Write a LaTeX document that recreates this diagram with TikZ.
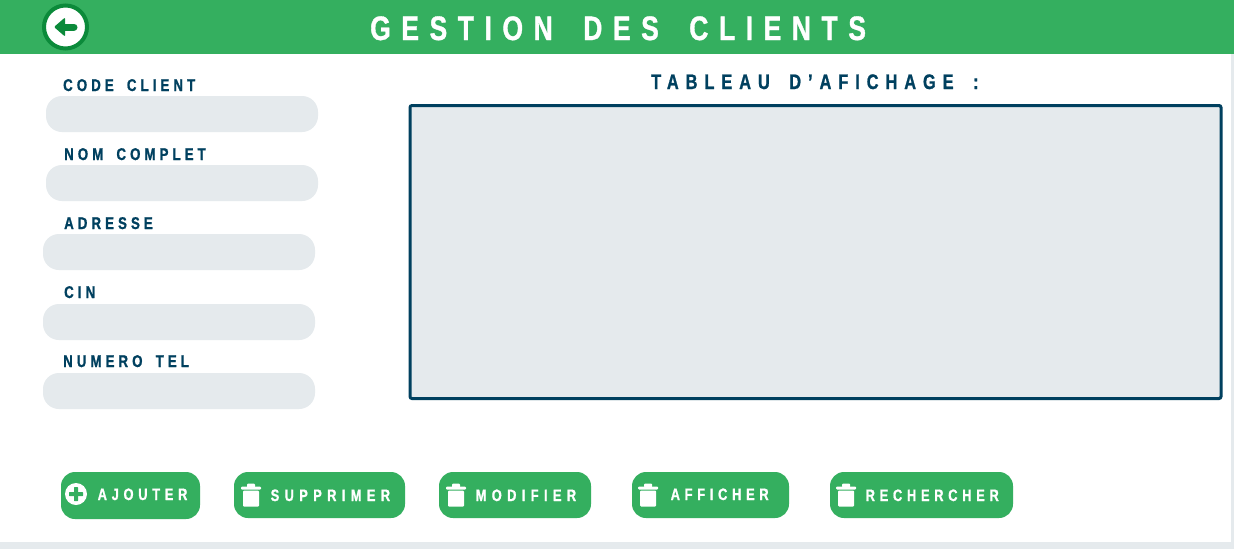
\documentclass[tikz,border=0pt]{standalone}
\usepackage{fontspec}
\newfontfamily\hfont[FakeStretch=0.78,LetterSpace=31,WordSpace=1.7,FakeBold=1]{Liberation Sans Bold}
\newfontfamily\lfont[FakeStretch=0.78,LetterSpace=24,WordSpace=1.7,FakeBold=1]{Liberation Sans Bold}
\newfontfamily\tfont[FakeStretch=0.78,LetterSpace=33,WordSpace=1.7,FakeBold=1]{Liberation Sans Bold}
\newfontfamily\bfontf[FakeStretch=0.78,LetterSpace=28.5,FakeBold=1]{Liberation Sans Bold}
\newfontfamily\bfontw[FakeStretch=0.78,LetterSpace=32.5,FakeBold=1]{Liberation Sans Bold}
\definecolor{grn}{HTML}{34AF5F}
\definecolor{dgrn}{HTML}{0B8A3A}
\definecolor{navy}{HTML}{00405F}
\definecolor{pale}{HTML}{E5EAED}
\tikzset{
  x=1pt,y=-1pt,
  pill/.style={fill=pale,rounded corners=16pt},
  btn/.style={fill=grn,rounded corners=14pt},
  lab/.style={inner sep=0pt,anchor=base west,text=navy,font=\lfont\fontsize{17}{17}\selectfont},
  btnlab/.style={inner sep=0pt,anchor=base west,text=white,font=\bfontf\fontsize{16.5}{17}\selectfont},
  btnlabw/.style={btnlab,font=\bfontw\fontsize{16.5}{17}\selectfont},
  trash/.pic={
    \fill[white,rounded corners=1pt] (-8,-3.5) rectangle (8,12.5);
    \fill[white,rounded corners=1pt] (-10,-7.5) rectangle (10,-4.5);
    \fill[white,rounded corners=1pt] (-4,-10.5) rectangle (4,-6.5);
  }
}
\begin{document}
\begin{tikzpicture}
\useasboundingbox (0,0) rectangle (1234,549);
\fill[white] (0,0) rectangle (1234,549);
\fill[pale] (0,542) rectangle (1234,549);
\fill[pale] (1231,0) rectangle (1234,549);
\fill[grn] (0,0) rectangle (1234,54);
% back button
\node[circle,draw=dgrn,line width=4pt,fill=white,minimum size=43pt,inner sep=0pt] (back) at (65.5,27) {};
\draw[dgrn,line width=7pt,line cap=round] (74,27) -- (61,27);
\fill[dgrn,rounded corners=1pt] (54,27) -- (65,17.5) -- (65,36.5) -- cycle;
% title
\node[inner sep=0pt,anchor=base west,text=white,font=\hfont\fontsize{34}{34}\selectfont] (title) at (370,40) {GESTION DES CLIENTS};
% fields
\fill[pill] (46,96) rectangle (318,132);
\fill[pill] (46,165) rectangle (318,201);
\fill[pill] (43,234) rectangle (315,270);
\fill[pill] (43,304) rectangle (315,340);
\fill[pill] (43,373) rectangle (315,409);
\node[lab] (l1) at (63,91) {CODE CLIENT};
\node[lab] (l2) at (64,160) {NOM COMPLET};
\node[lab] (l3) at (64,229) {ADRESSE};
\node[lab] (l4) at (64,298) {CIN};
\node[lab] (l5) at (63,367) {NUMERO TEL};
% table
\node[lab,font=\tfont\fontsize{21}{21}\selectfont] (tt) at (651,89) {TABLEAU D’AFICHAGE :};
\draw[navy,line width=3pt,fill=pale,rounded corners=2pt] (410,105.5) rectangle (1221,398.5);
% buttons
\fill[btn] (61,472) rectangle (200,519);
\fill[btn] (234,472) rectangle (405,518);
\fill[btn] (439,472) rectangle (591,518);
\fill[btn] (632,472) rectangle (789,518);
\fill[btn] (830,472) rectangle (1013,518);
\fill[white] (76,494) circle (11);
\fill[grn,rounded corners=0.5pt] (74,487) rectangle (78,501);
\fill[grn,rounded corners=0.5pt] (69,492) rectangle (83,496);
\pic at (251,494) {trash};
\pic at (456,494) {trash};
\pic at (648,494) {trash};
\pic at (846,494) {trash};
\node[btnlab] (b1) at (97.5,500) {AJOUTER};
\node[btnlabw] (b2) at (270.5,501) {SUPPRIMER};
\node[btnlabw] (b3) at (475.5,501) {MODIFIER};
\node[btnlab] (b4) at (670.5,500) {AFFICHER};
\node[btnlab] (b5) at (865.5,501) {RECHERCHER};
\end{tikzpicture}
\end{document}
